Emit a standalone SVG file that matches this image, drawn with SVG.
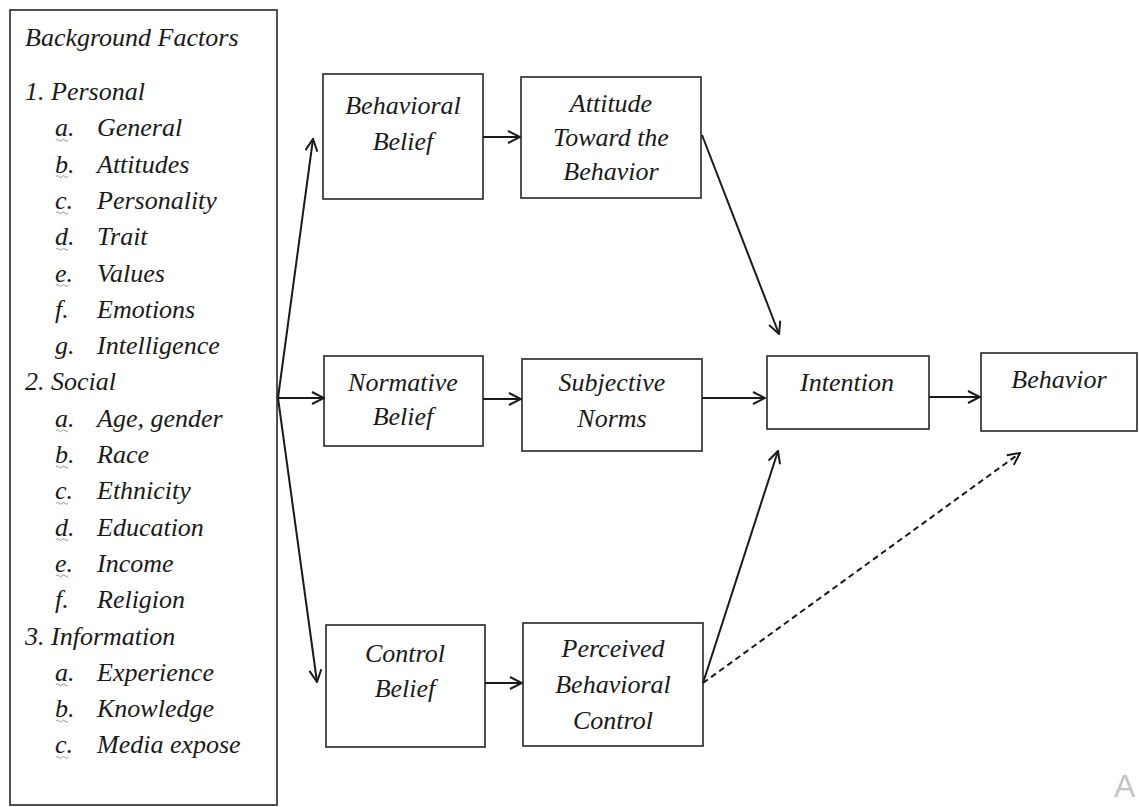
<svg xmlns="http://www.w3.org/2000/svg" width="1139" height="807" viewBox="0 0 1139 807">
<style>
  text { font-family: "Liberation Serif", "Times New Roman", serif; font-style: italic; font-size: 26px; fill: #1a1a1a; }
  .c { text-anchor: middle; }
  .box { fill: #fff; stroke: #333; stroke-width: 1.7; }
  .ln { fill: none; stroke: #1a1a1a; stroke-width: 2; }
  .dash { stroke-dasharray: 6 4; }
  .wv { fill: none; stroke: #888; stroke-width: 0.9; }
  .wm { font-family: "Liberation Sans", Arial, sans-serif; font-style: normal; font-size: 32px; fill: #c4c4c4; }
</style>
<defs>
  <marker id="ah" viewBox="0 0 14 14" refX="13" refY="7" markerWidth="14" markerHeight="14" markerUnits="userSpaceOnUse" orient="auto">
    <path d="M1,1 L13,7 L1,13" fill="none" stroke="#1a1a1a" stroke-width="2"/>
  </marker>
</defs>
<rect width="1139" height="807" fill="#fff"/>

<g id="background-factors">
  <rect class="box" x="10" y="10" width="267" height="795"/>
  <text x="25" y="46">Background Factors</text>
  <text x="25" y="100">1. Personal</text>
  <text x="55" y="136.3">a.</text><text x="97" y="136.3">General</text>
  <text x="55" y="172.6">b.</text><text x="97" y="172.6">Attitudes</text>
  <text x="55" y="208.9">c.</text><text x="97" y="208.9">Personality</text>
  <text x="55" y="245.2">d.</text><text x="97" y="245.2">Trait</text>
  <text x="55" y="281.5">e.</text><text x="97" y="281.5">Values</text>
  <text x="55" y="317.8">f.</text><text x="97" y="317.8">Emotions</text>
  <text x="55" y="354.1">g.</text><text x="97" y="354.1">Intelligence</text>
  <text x="25" y="390.4">2. Social</text>
  <text x="55" y="426.7">a.</text><text x="97" y="426.7">Age, gender</text>
  <text x="55" y="463">b.</text><text x="97" y="463">Race</text>
  <text x="55" y="499.3">c.</text><text x="97" y="499.3">Ethnicity</text>
  <text x="55" y="535.6">d.</text><text x="97" y="535.6">Education</text>
  <text x="55" y="571.9">e.</text><text x="97" y="571.9">Income</text>
  <text x="55" y="608.2">f.</text><text x="97" y="608.2">Religion</text>
  <text x="25" y="644.5">3. Information</text>
  <text x="55" y="680.8">a.</text><text x="97" y="680.8">Experience</text>
  <text x="55" y="717.1">b.</text><text x="97" y="717.1">Knowledge</text>
  <text x="55" y="753.4">c.</text><text x="97" y="753.4">Media expose</text>
  <g class="wv">
    <path d="M56,140.3 q1.5,-2 3,0 t3,0 t3,0 t3,0"/>
    <path d="M56,176.6 q1.5,-2 3,0 t3,0 t3,0 t3,0"/>
    <path d="M56,212.9 q1.5,-2 3,0 t3,0 t3,0 t3,0"/>
    <path d="M56,249.2 q1.5,-2 3,0 t3,0 t3,0 t3,0"/>
    <path d="M56,285.5 q1.5,-2 3,0 t3,0 t3,0 t3,0"/>
    <path d="M56,430.7 q1.5,-2 3,0 t3,0 t3,0 t3,0"/>
    <path d="M56,467 q1.5,-2 3,0 t3,0 t3,0 t3,0"/>
    <path d="M56,503.3 q1.5,-2 3,0 t3,0 t3,0 t3,0"/>
    <path d="M56,539.6 q1.5,-2 3,0 t3,0 t3,0 t3,0"/>
    <path d="M56,575.9 q1.5,-2 3,0 t3,0 t3,0 t3,0"/>
    <path d="M56,684.8 q1.5,-2 3,0 t3,0 t3,0 t3,0"/>
    <path d="M56,721.1 q1.5,-2 3,0 t3,0 t3,0 t3,0"/>
    <path d="M56,757.4 q1.5,-2 3,0 t3,0 t3,0 t3,0"/>
  </g>
</g>

<g id="behavioral-belief">
  <rect class="box" x="323" y="74" width="160" height="125"/>
  <text class="c" x="403" y="114">Behavioral</text>
  <text class="c" x="403" y="150">Belief</text>
</g>
<g id="attitude">
  <rect class="box" x="521" y="77" width="180" height="121"/>
  <text class="c" x="611" y="112">Attitude</text>
  <text class="c" x="611" y="146">Toward the</text>
  <text class="c" x="611" y="180">Behavior</text>
</g>
<g id="normative-belief">
  <rect class="box" x="324" y="356" width="159" height="90"/>
  <text class="c" x="403" y="391">Normative</text>
  <text class="c" x="403" y="425">Belief</text>
</g>
<g id="subjective-norms">
  <rect class="box" x="522" y="359" width="180" height="92"/>
  <text class="c" x="612" y="391">Subjective</text>
  <text class="c" x="612" y="427">Norms</text>
</g>
<g id="control-belief">
  <rect class="box" x="326" y="625" width="159" height="122"/>
  <text class="c" x="405" y="662">Control</text>
  <text class="c" x="405" y="697">Belief</text>
</g>
<g id="perceived-control">
  <rect class="box" x="523" y="623" width="180" height="123"/>
  <text class="c" x="613" y="657">Perceived</text>
  <text class="c" x="613" y="693">Behavioral</text>
  <text class="c" x="613" y="729">Control</text>
</g>
<g id="intention">
  <rect class="box" x="767" y="356" width="162" height="73"/>
  <text class="c" x="847" y="391">Intention</text>
</g>
<g id="behavior">
  <rect class="box" x="981" y="353" width="156" height="78"/>
  <text class="c" x="1059" y="388">Behavior</text>
</g>

<g id="connectors">
  <line class="ln" x1="278" y1="398" x2="313" y2="139" marker-end="url(#ah)"/>
  <line class="ln" x1="278" y1="398" x2="324" y2="398" marker-end="url(#ah)"/>
  <line class="ln" x1="278" y1="398" x2="317" y2="682" marker-end="url(#ah)"/>
  <line class="ln" x1="483" y1="137" x2="520" y2="137" marker-end="url(#ah)"/>
  <line class="ln" x1="483" y1="399" x2="521" y2="399" marker-end="url(#ah)"/>
  <line class="ln" x1="485" y1="683" x2="522" y2="683" marker-end="url(#ah)"/>
  <line class="ln" x1="702" y1="135" x2="779" y2="334" marker-end="url(#ah)"/>
  <line class="ln" x1="702" y1="398" x2="765" y2="398" marker-end="url(#ah)"/>
  <line class="ln" x1="703" y1="683" x2="778" y2="451" marker-end="url(#ah)"/>
  <line class="ln" x1="929" y1="397" x2="980" y2="397" marker-end="url(#ah)"/>
  <line class="ln dash" x1="703" y1="683" x2="1020" y2="453" marker-end="url(#ah)"/>
</g>

<text class="wm" x="1114" y="797">A</text>
</svg>
